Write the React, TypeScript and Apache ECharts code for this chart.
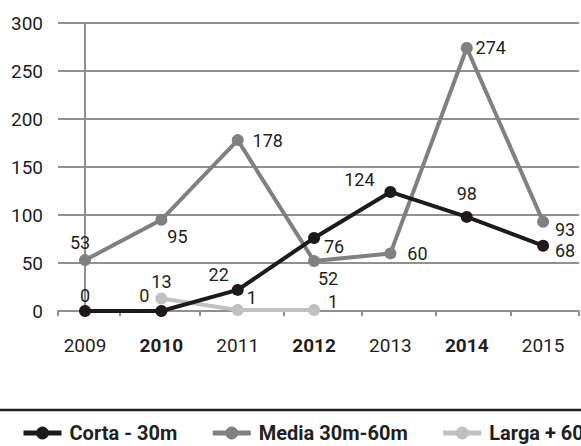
import React, { useEffect, useRef } from "react";
import * as echarts from "echarts";

const years = ["2009", "2010", "2011", "2012", "2013", "2014", "2015"];
const boldYears = ["2010", "2012", "2014"];
const corta = [0, 0, 22, 76, 124, 98, 68];
const media = [53, 95, 178, 52, 60, 274, 93];
const larga: (number | null)[] = [null, 13, 1, 1, null, null, null];
const seriesNames = ["Corta - 30m", "Media 30m-60m", "Larga + 60m"];
const yTicks = [0, 50, 100, 150, 200, 250, 300];

// label offsets (style only) per point
const cortaOffsets = [[0, -16], [-17, -16], [-19, -15], [20, 8], [-31, -12], [0, -23], [22, 5]];
const mediaOffsets = [[-5, -18], [16, 17], [30, 0], [14, 17], [27, 0], [24, 0], [22, 8]];
const largaOffsets = [[0, 0], [0, -17], [14, -13], [19, -9], [0, 0], [0, 0], [0, 0]];

const TEXT = "#231f20";
const GRID = "#909090";
const FONT = "Roboto, 'Noto Sans', sans-serif";

function build(values: (number | null)[], offsets: number[][]) {
  return values.map((v, i) =>
    v === null
      ? [i, null]
      : {
          value: [i, v],
          label: { offset: offsets[i] },
        }
  );
}

export default function App() {
  const ref = useRef<HTMLDivElement>(null);
  useEffect(() => {
    document.body.style.margin = "0";
    const chart = echarts.init(ref.current!, null, { renderer: "svg" });
    const labelBase = {
      show: true,
      position: "inside",
      color: TEXT,
      fontSize: 18,
      fontFamily: FONT,
      formatter: (p: any) => String(p.value[1]),
    };
    const mk = (name: string, color: string, data: any[], z: number) => ({
      name,
      type: "line",
      data,
      z,
      symbol: "circle",
      symbolSize: 12,
      connectNulls: false,
      lineStyle: { color, width: 4 },
      itemStyle: { color },
      label: labelBase,
    });
    chart.setOption({
      animation: false,
      backgroundColor: "#fff",
      textStyle: { fontFamily: FONT },
      grid: { left: 58, right: 2, top: 23, bottom: 135 },
      xAxis: {
        type: "value",
        min: -0.354,
        max: 6.47,
        axisLine: { show: true, onZero: false, lineStyle: { color: GRID, width: 2 } },
        axisTick: {
          show: true,
          customValues: [-0.354, 0.46, 1.5, 2.6, 3.62, 4.6, 5.58, 6.47],
          length: 5,
          lineStyle: { color: GRID, width: 2 },
        },
        splitLine: { show: false },
        axisLabel: {
          customValues: [0, 1, 2, 3, 4, 5, 6],
          margin: 25,
          fontSize: 19,
          fontFamily: FONT,
          color: TEXT,
          formatter: (v: number) => {
            const y = years[Math.round(v)];
            return boldYears.includes(y) ? `{b|${y}}` : y;
          },
          rich: { b: { fontWeight: "bold", fontSize: 19, fontFamily: FONT, color: TEXT } },
        },
      },
      yAxis: {
        type: "value",
        min: yTicks[0],
        max: yTicks[yTicks.length - 1],
        interval: 50,
        axisLine: { show: true, lineStyle: { color: GRID, width: 2 } },
        axisTick: { show: true, length: 9, lineStyle: { color: GRID, width: 2 } },
        splitLine: { show: true, lineStyle: { color: GRID, width: 2 } },
        axisLabel: { margin: 15, fontSize: 19, fontFamily: FONT, color: TEXT },
      },
      legend: {
        left: 16,
        top: 418,
        width: 1200,
        itemWidth: 38,
        itemHeight: 16,
        itemGap: 33,
        data: seriesNames,
        lineStyle: { width: 5 },
        textStyle: {
          fontSize: 20,
          lineHeight: 20,
          fontWeight: "bold",
          color: TEXT,
          fontFamily: FONT,
          padding: [0, 0, 0, 3],
        },
      },
      graphic: [
        {
          type: "line",
          shape: { x1: 0, y1: 410, x2: 581, y2: 410 },
          style: { stroke: TEXT, lineWidth: 2.5 },
        },
      ],
      series: [
        mk(seriesNames[1], "#808080", build(media, mediaOffsets), 2),
        mk(seriesNames[2], "#c0c0c0", build(larga, largaOffsets), 3),
        mk(seriesNames[0], "#1e1a1b", build(corta, cortaOffsets), 4),
      ],
    });
    return () => chart.dispose();
  }, []);
  return <div ref={ref} style={{ width: 581, height: 446 }} />;
}
